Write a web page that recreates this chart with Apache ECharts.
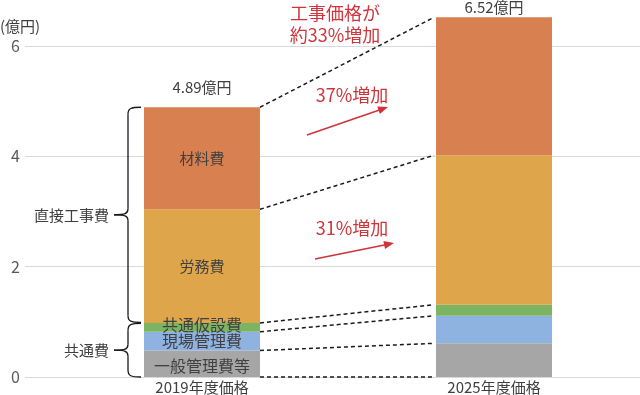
<!DOCTYPE html>
<html>
<head>
<meta charset="utf-8">
<script src="https://cdn.jsdelivr.net/npm/echarts@6/dist/echarts.min.js"></script>
<style>html,body{margin:0;padding:0;background:#fff}#c{width:640px;height:395px}</style>
</head>
<body>
<div id="c"></div>
<script>
const categories = ['2019年度価格', '2025年度価格'];
const generalAdmin = [0.48, 0.61];   // 一般管理費等
const siteAdmin = [0.34, 0.50];      // 現場管理費
const commonTemp = [0.16, 0.20];     // 共通仮設費
const labor = [2.06, 2.71];          // 労務費
const material = [1.85, 2.50];       // 材料費
const yTicks = [0, 2, 4, 6];
const seriesNames = ['一般管理費等', '現場管理費', '共通仮設費', '労務費', '材料費'];
const seriesData = [generalAdmin, siteAdmin, commonTemp, labor, material];
const colors = ['#A6A6A6', '#8FB3E0', '#7CB562', '#DFA54A', '#D8804F'];
const labelSizes = [16, 16, 16, 15, 15];
const FONT = 'Noto Sans CJK JP';
const RED = '#D0343A';

const chart = echarts.init(document.getElementById('c'), null, {renderer: 'canvas'});

const series = seriesData.map((arr, k) => ({
  name: seriesNames[k],
  type: 'bar',
  stack: 'cost',
  xAxisIndex: 1,
  yAxisIndex: 1,
  barWidth: 116,
  itemStyle: {color: colors[k]},
  data: arr.map((v, i) => ({
    value: v,
    label: {
      show: i === 0,
      position: 'inside',
      formatter: seriesNames[k],
      color: '#404040',
      fontSize: labelSizes[k],
      fontFamily: FONT,
      offset: k === 2 ? [0, -2] : (k === 0 ? [0, 2] : [0, 0])
    }
  }))
}));

const plotBottom = 18;
const axisTop = 46;           // pixel top of the visible 0..6 axis
const unitPx = (395 - plotBottom - axisTop) / 6;
const barMax = 6.8;
const barTop = 395 - plotBottom - barMax * unitPx;

chart.setOption({
  animation: false,
  textStyle: {fontFamily: FONT},
  grid: [
    {left: 25, right: 0, top: axisTop, bottom: plotBottom},
    {left: 56, right: 0, top: barTop, bottom: plotBottom}
  ],
  xAxis: [
    {type: 'category', gridIndex: 0, data: categories, show: false},
    {type: 'category', gridIndex: 1, data: categories,
     axisLine: {show: false}, axisTick: {show: false},
     axisLabel: {fontSize: 15, color: '#404040', margin: 3, fontFamily: FONT}}
  ],
  yAxis: [
    {type: 'value', gridIndex: 0, min: yTicks[0], max: yTicks[yTicks.length - 1], interval: 2,
     axisLine: {show: false}, axisTick: {show: false},
     splitLine: {lineStyle: {color: '#D9D9D9', width: 1}},
     axisLabel: {fontSize: 16, color: '#595959', margin: 5, fontFamily: FONT}},
    {type: 'value', gridIndex: 1, min: 0, max: barMax, show: false,
     splitLine: {show: false}}
  ],
  series: series
});

// Annotations computed from the data through the axes
const half = 58;
const px = (i, v) => chart.convertToPixel({xAxisIndex: 1, yAxisIndex: 1}, [categories[i], v]);
const cum = categories.map((c, i) => {
  const out = [0];
  let s = 0;
  seriesData.forEach(arr => { s += arr[i]; out.push(Math.round(s * 100) / 100); });
  return out;
});
const g = [];
// dashed connectors
for (let k = 0; k < cum[0].length; k++) {
  const a = px(0, cum[0][k]);
  const b = px(1, cum[1][k]);
  g.push({type: 'line', z: 100, shape: {x1: a[0] + half, y1: a[1], x2: b[0] - half - 2, y2: b[1]},
    style: {stroke: '#1a1a1a', lineWidth: 1.5, lineDash: [4, 3]}});
}
// totals
cum.forEach((arr, i) => {
  const p = px(i, arr[arr.length - 1]);
  g.push({type: 'text', z: 100, x: p[0], y: p[1] - (i === 0 ? 20 : 10),
    style: {text: arr[arr.length - 1].toFixed(2) + '億円', fill: '#404040', font: '15px "' + FONT + '"',
      align: 'center', verticalAlign: 'middle'}});
});
// braces
function brace(yTop, yBot, label) {
  const xv = 128, xe = 141, xn = 114;
  const ym = (yTop + yBot) / 2;
  const st = {stroke: '#1a1a1a', lineWidth: 1.3, fill: null};
  g.push({type: 'bezierCurve', z: 100, shape: {x1: xe, y1: yTop, cpx1: xv + 3, cpy1: yTop, cpx2: xv, cpy2: yTop + 1, x2: xv, y2: yTop + 7}, style: st});
  g.push({type: 'line', z: 100, shape: {x1: xv, y1: yTop + 7, x2: xv, y2: ym - 6}, style: st});
  g.push({type: 'bezierCurve', z: 100, shape: {x1: xv, y1: ym - 6, cpx1: xv, cpy1: ym - 1, cpx2: xv - 3, cpy2: ym, x2: xn, y2: ym}, style: st});
  g.push({type: 'bezierCurve', z: 100, shape: {x1: xn, y1: ym, cpx1: xv - 3, cpy1: ym, cpx2: xv, cpy2: ym + 1, x2: xv, y2: ym + 6}, style: st});
  g.push({type: 'line', z: 100, shape: {x1: xv, y1: ym + 6, x2: xv, y2: yBot - 7}, style: st});
  g.push({type: 'bezierCurve', z: 100, shape: {x1: xv, y1: yBot - 7, cpx1: xv, cpy1: yBot - 1, cpx2: xv + 3, cpy2: yBot, x2: xe, y2: yBot}, style: st});
  g.push({type: 'text', z: 100, x: 109, y: ym,
    style: {text: label, fill: '#404040', font: '15px "' + FONT + '"', align: 'right', verticalAlign: 'middle'}});
}
const b0 = px(0, cum[0][5])[1], b1 = px(0, cum[0][3])[1], b2 = px(0, 0)[1];
brace(b0, b1 - 0.5, '直接工事費');
brace(b1 + 0.5, b2, '共通費');
// red annotations
function redText(x, y, t) {
  g.push({type: 'text', z: 100, x: x, y: y,
    style: {text: t, fill: RED, font: '18px "' + FONT + '"', align: 'center', verticalAlign: 'middle'}});
}
function arrow(x1, y1, x2, y2) {
  const dx = x2 - x1, dy = y2 - y1, L = Math.hypot(dx, dy);
  const ux = dx / L, uy = dy / L, nx = -uy, ny = ux;
  const hl = 10, hw = 4;
  g.push({type: 'line', z: 100, shape: {x1: x1, y1: y1, x2: x2 - ux * 6, y2: y2 - uy * 6},
    style: {stroke: RED, lineWidth: 1.6}});
  g.push({type: 'polygon', z: 100, shape: {points: [[x2, y2], [x2 - ux * hl + nx * hw, y2 - uy * hl + ny * hw], [x2 - ux * hl - nx * hw, y2 - uy * hl - ny * hw]]},
    style: {fill: RED}});
}
redText(335, 13, '工事価格が');
redText(335, 35, '約33%増加');
redText(352, 95, '37%増加');
arrow(307, 135, 388, 107);
redText(352, 228, '31%増加');
arrow(315, 259, 394, 243);
// unit label
g.push({type: 'text', z: 100, x: 0, y: 26,
  style: {text: '(億円)', fill: '#404040', font: '15px "' + FONT + '"', align: 'left', verticalAlign: 'middle'}});

chart.setOption({graphic: {elements: g}});
</script>
</body>
</html>
